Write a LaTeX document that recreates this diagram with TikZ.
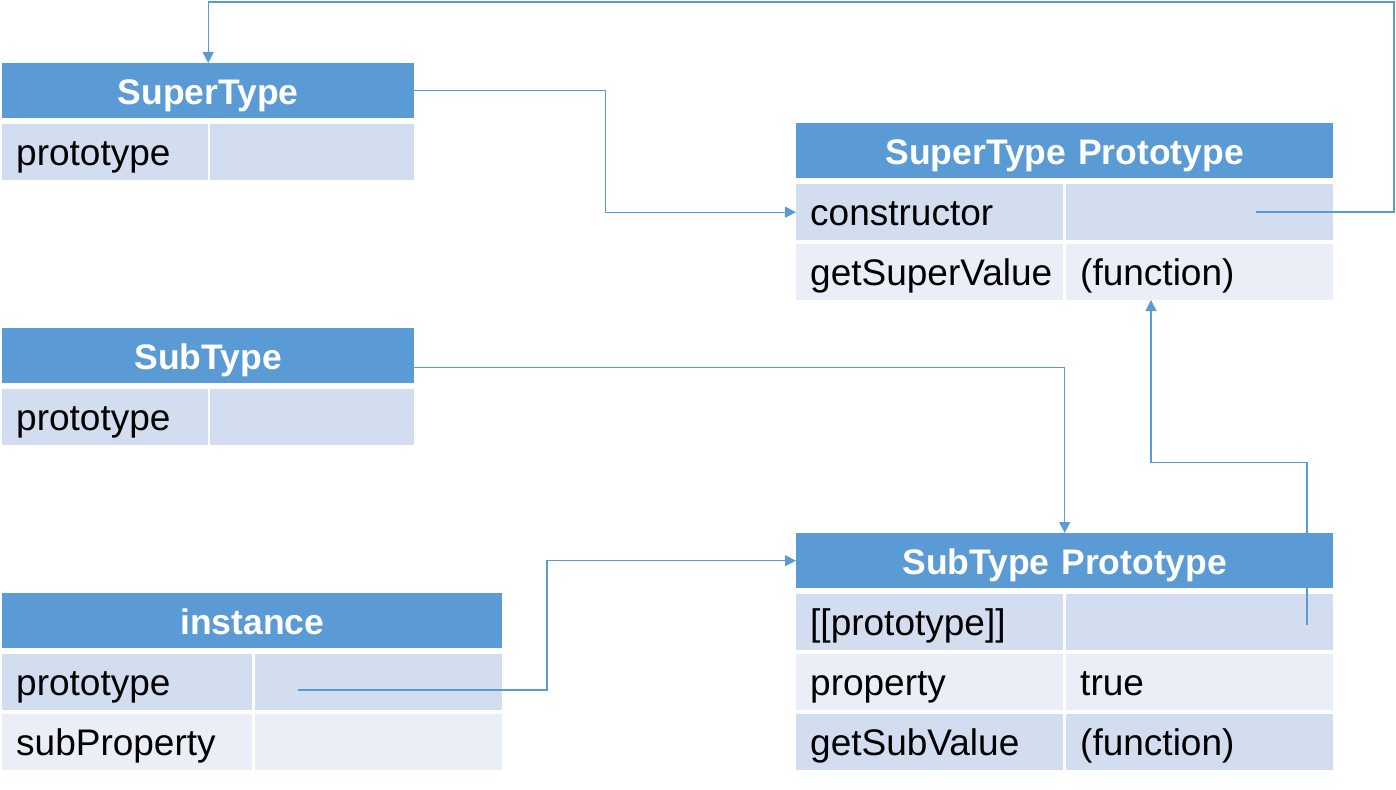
\documentclass[tikz,border=0pt]{standalone}
\usepackage{fontspec}
\setmainfont{Liberation Sans}
\usetikzlibrary{arrows.meta,calc}
\definecolor{hdrblue}{HTML}{5B9BD5}
\definecolor{rowdark}{HTML}{D2DEEF}
\definecolor{rowlight}{HTML}{EAEFF7}
\hyphenpenalty=10000
\tikzset{
  cell/.style={anchor=north west,inner ysep=0pt,inner xsep=14pt,align=left,
    minimum height=56pt,text height=31pt,text depth=4pt,
    font=\fontsize{37}{42}\selectfont},
  hdr/.style={cell,align=center,fill=hdrblue,text=white,minimum height=55pt,
    font=\bfseries\fontsize{35.5}{40}\selectfont},
  dark/.style={cell,fill=rowdark},
  light/.style={cell,fill=rowlight},
  link/.style={draw=hdrblue,line width=1.3pt,-{Triangle[length=11pt,width=11pt]}},
}
\begin{document}
\begin{tikzpicture}[x=1pt,y=-1pt]
    \useasboundingbox (0,0) rectangle (1396,789);

    % SuperType
    \node [hdr,text width=384pt] (st) at (2,63) {SuperType};
    \node [dark,text width=178pt] (st-k) at (2,124) {prototype};
    \node [dark,text width=176pt] (st-v) at (210,124) {};

    % SubType
    \node [hdr,text width=384pt] (sub) at (2,328) {SubType};
    \node [dark,text width=178pt] (sub-k) at (2,389) {prototype};
    \node [dark,text width=176pt] (sub-v) at (210,389) {};

    % instance
    \node [hdr,text width=472pt] (inst) at (2,593) {instance};
    \node [dark,text width=222pt] (inst-k1) at (2,654) {prototype};
    \node [dark,text width=219pt] (inst-v1) at (255,654) {};
    \node [light,text width=222pt] (inst-k2) at (2,714) {subProperty};
    \node [light,text width=219pt] (inst-v2) at (255,714) {};

    % SuperType Prototype
    \node [hdr,text width=509pt] (stp) at (796,123) {SuperType Prototype};
    \node [dark,text width=239pt] (stp-k1) at (796,184) {constructor};
    \node [dark,text width=239pt] (stp-v1) at (1066,184) {};
    \node [light,text width=239pt] (stp-k2) at (796,244) {getSuperValue};
    \node [light,text width=239pt] (stp-v2) at (1066,244) {(function)};

    % SubType Prototype
    \node [hdr,text width=509pt] (sbp) at (796,533) {SubType Prototype};
    \node [dark,text width=239pt] (sbp-k1) at (796,594) {[[prototype]]};
    \node [dark,text width=239pt] (sbp-v1) at (1066,594) {};
    \node [light,text width=239pt] (sbp-k2) at (796,654) {property};
    \node [light,text width=239pt] (sbp-v2) at (1066,654) {true};
    \node [dark,text width=239pt] (sbp-k3) at (796,714) {getSubValue};
    \node [dark,text width=239pt] (sbp-v3) at (1066,714) {(function)};

    % pointer ends
    \coordinate (ctor-ptr) at (1256,212);
    \coordinate (ring) at (1394,2);
    \coordinate (inst-ptr) at (298,690);
    \coordinate (sbp-ptr) at (1307,625);
    \coordinate (stp-in) at (1151,300);

    \draw [link] (st.east) -| ($(st.east)!.5!(stp-k1.west)$) |- (stp-k1.west);
    \draw [link] (ctor-ptr) -| (ring) -| (st.north);
    \draw [link] ([yshift=-12pt]sub.east) -| (sbp.north);
    \draw [link] (inst-ptr) -| ($(inst-ptr)!.5!(sbp.west)$) |- (sbp.west);
    \draw [link] (sbp-ptr) |- ($(sbp-ptr)!.5!(stp-in)$) -| (stp-in);
  \end{tikzpicture}
\end{document}
